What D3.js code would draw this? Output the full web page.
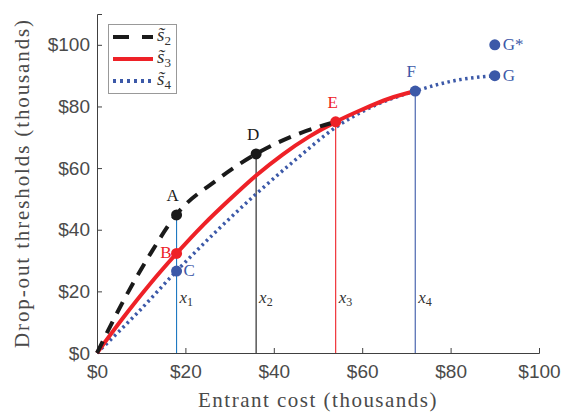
<!DOCTYPE html>
<html><head><meta charset="utf-8">
<script src="https://cdn.jsdelivr.net/npm/d3@7"></script>
<style>body{margin:0;background:#fff}svg{display:block}</style>
</head><body><svg id="c" width="566" height="413"></svg>
<script>
// ---- data ----
const xTicks = [0, 20, 40, 60, 80, 100];
const yTicks = [0, 20, 40, 60, 80, 100];
const s2X = [0, 6, 12, 18, 27, 36, 45, 54];
const s2Y = [0, 17, 32, 45, 56, 64.6, 70.8, 75];
const s3X = [0, 6, 12, 18, 24, 30, 36, 42, 48, 54, 60, 66, 72];
const s3Y = [0, 11.6, 22.4, 32.3, 41.5, 49.8, 57.6, 64.4, 70.2, 75, 79, 82.5, 85];
const s4X = [0, 9, 18, 27, 36, 45, 54, 63, 72, 81, 90];
const s4Y = [0, 12.8, 26.6, 39.5, 51.6, 62.8, 73.2, 80.4, 85, 88.4, 90];
const ptNames = ["A", "B", "C", "D", "E", "F", "G", "G*"];
const ptX = [18, 18, 18, 36, 54, 72, 90, 90];
const ptY = [44.8, 32.3, 26.6, 64.6, 75, 85, 90, 100];
const vlineNames = ["x1", "x2", "x3", "x4"];
const vlineX = [18, 36, 54, 72];
const vlineTop = [44.8, 64.6, 75, 85];

// ---- styles ----
const C_BLACK = "#1a1a1a", C_RED = "#ee2127", C_BLUE = "#3c59a8", C_LBLUE = "#1f78c1";
const ptColors = [C_BLACK, C_RED, C_BLUE, C_BLACK, C_RED, C_BLUE, C_BLUE, C_BLUE];
const vlineColors = [C_LBLUE, C_BLACK, C_RED, C_BLUE];
const SERIF = "Liberation Serif";
const SANS = "Liberation Sans";

const svg = d3.select("#c");
const x = d3.scaleLinear().domain([0, 100]).range([97, 539]);
const y = d3.scaleLinear().domain([0, 110]).range([353, 14]);

// axes
const gx = svg.append("g").attr("transform", "translate(0,353)")
  .call(d3.axisBottom(x).tickValues(xTicks).tickSize(-5).tickPadding(9).tickFormat(d => "$" + d));
const gy = svg.append("g").attr("transform", "translate(97,0)")
  .call(d3.axisLeft(y).tickValues(yTicks).tickSize(-5).tickPadding(7).tickFormat(d => "$" + d));
[gx, gy].forEach(g => {
  g.select(".domain").attr("stroke", "#404040").attr("stroke-width", 1);
  g.selectAll(".tick line").attr("stroke", "#404040");
  g.selectAll(".tick text").attr("fill", "#4a4a4a").attr("font-family", SANS).attr("font-size", 19);
});
gx.selectAll(".tick text").attr("dy", "0.85em");

// vertical lines
vlineX.forEach((v, i) => {
  svg.append("line").attr("x1", x(v)).attr("x2", x(v)).attr("y1", y(0)).attr("y2", y(vlineTop[i]))
    .attr("stroke", vlineColors[i]).attr("stroke-width", 1.1);
  const t = svg.append("text").attr("x", x(v) + 3).attr("y", 303)
    .attr("font-family", SERIF).attr("font-size", 17).attr("fill", "#333");
  t.append("tspan").attr("font-style", "italic").text(vlineNames[i][0]);
  t.append("tspan").attr("font-size", 12).attr("dy", 3).text(vlineNames[i].slice(1));
});

const line = d3.line().x(d => x(d[0])).y(d => y(d[1])).curve(d3.curveMonotoneX);
const mk = (xs, ys) => xs.map((v, i) => [v, ys[i]]);
svg.append("path").attr("d", line(mk(s4X, s4Y))).attr("fill", "none")
  .attr("stroke", C_BLUE).attr("stroke-width", 3.5).attr("stroke-dasharray", "2.5,3.5");
svg.append("path").attr("d", line(mk(s3X, s3Y))).attr("fill", "none")
  .attr("stroke", C_RED).attr("stroke-width", 4);
svg.append("path").attr("d", line(mk(s2X, s2Y))).attr("fill", "none")
  .attr("stroke", C_BLACK).attr("stroke-width", 4).attr("stroke-dasharray", "13,9");

// points
const lblOff = {A: [-4, -14, "middle"], B: [-5, 5, "end"], C: [7, 5, "start"], D: [-3, -14, "middle"],
  E: [-3, -14, "middle"], F: [-4, -14, "middle"], G: [8, 5, "start"], "G*": [8, 5, "start"]};
ptNames.forEach((n, i) => {
  svg.append("circle").attr("cx", x(ptX[i])).attr("cy", y(ptY[i])).attr("r", 5.5).attr("fill", ptColors[i]);
  const o = lblOff[n];
  svg.append("text").attr("x", x(ptX[i]) + o[0]).attr("y", y(ptY[i]) + o[1]).attr("text-anchor", o[2])
    .attr("font-family", SERIF).attr("font-size", 17).attr("fill", ptColors[i]).text(n);
});

// axis titles (letter-spaced to the reference's width)
function fitSpacing(t, target) {
  const n = t.text().length;
  const w = t.node().getComputedTextLength();
  t.attr("letter-spacing", Math.max(0, (target - w) / n));
}
const xt = svg.append("text").attr("x", 318).attr("y", 407).attr("text-anchor", "middle")
  .attr("font-family", SERIF).attr("font-size", 21).attr("fill", "#4a4a4a").text("Entrant cost (thousands)");
fitSpacing(xt, 240);
const yt = svg.append("text").attr("transform", "translate(29,183) rotate(-90)").attr("text-anchor", "middle")
  .attr("font-family", SERIF).attr("font-size", 21).attr("fill", "#4a4a4a").text("Drop-out thresholds (thousands)");
fitSpacing(yt, 330);

// legend
const legNames = ["2", "3", "4"];
const legColors = [C_BLACK, C_RED, C_BLUE];
const legDash = ["16,13", null, "3,4"];
svg.append("rect").attr("x", 108.5).attr("y", 24.5).attr("width", 68).attr("height", 69)
  .attr("fill", "#fff").attr("stroke", "#999").attr("stroke-width", 1);
legNames.forEach((n, i) => {
  const ly = 37 + i * 22;
  svg.append("line").attr("x1", 113).attr("x2", 153).attr("y1", ly).attr("y2", ly)
    .attr("stroke", legColors[i]).attr("stroke-width", 4).attr("stroke-dasharray", legDash[i]);
  const t = svg.append("text").attr("x", 157).attr("y", ly + 4)
    .attr("font-family", SERIF).attr("font-size", 19).attr("fill", "#333");
  t.append("tspan").attr("font-style", "italic").text("s\u0303");
  t.append("tspan").attr("font-size", 13).attr("dy", 4).text(n);
});
</script></body></html>
